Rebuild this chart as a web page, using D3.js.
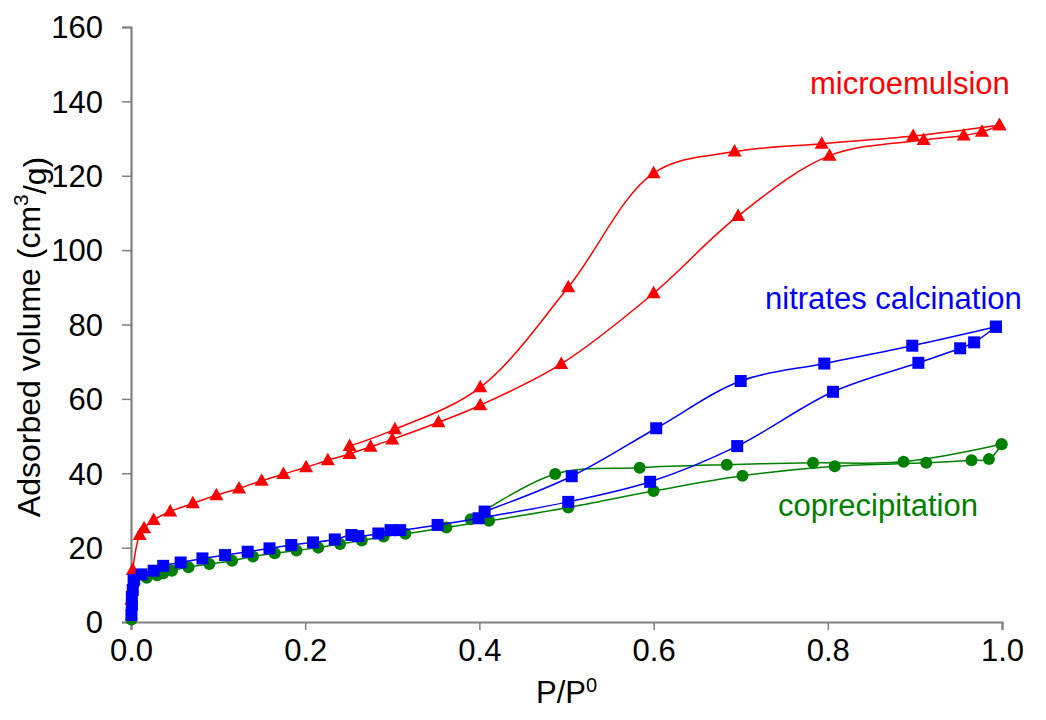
<!DOCTYPE html>
<html>
<head>
<meta charset="utf-8">
<script src="https://cdn.jsdelivr.net/npm/d3@7"></script>
<style>
  html, body { margin: 0; padding: 0; background: #fff; }
  svg { display: block; font-family: "Liberation Sans", Arial, sans-serif; }
</style>
</head>
<body>
<svg id="chart" width="1046" height="720"></svg>
<script>
// N2 isotherms: relative pressure (P/P0) vs adsorbed volume (cm3/g)
const microAdsP = [0.0005, 0.002, 0.010, 0.015, 0.026, 0.045, 0.071, 0.098, 0.124, 0.150, 0.175, 0.201, 0.226, 0.251, 0.275, 0.300, 0.353, 0.401, 0.494, 0.600, 0.697, 0.802, 0.910, 0.956, 0.977, 0.997];
const microAdsV = [6.0, 14.0, 23.4, 25.2, 27.4, 29.7, 31.9, 34.1, 35.9, 38.0, 39.8, 41.6, 43.5, 45.2, 47.1, 49.1, 53.7, 58.3, 69.4, 88.4, 109.2, 125.4, 129.6, 130.8, 131.8, 133.6];
const microDesP = [0.997, 0.898, 0.793, 0.693, 0.600, 0.502, 0.401, 0.303, 0.251];
const microDesV = [133.6, 130.7, 128.6, 126.5, 120.7, 90.0, 63.1, 51.8, 47.3];

const nitrAdsP = [0.0005, 0.001, 0.001, 0.002, 0.003, 0.012, 0.026, 0.037, 0.057, 0.082, 0.108, 0.134, 0.159, 0.184, 0.209, 0.234, 0.253, 0.261, 0.284, 0.298, 0.309, 0.352, 0.399, 0.502, 0.596, 0.696, 0.806, 0.904, 0.952, 0.968, 0.993];
const nitrAdsV = [1.9, 4.6, 6.7, 8.6, 11.3, 12.8, 13.8, 15.1, 16.0, 17.1, 18.0, 18.9, 19.8, 20.7, 21.4, 22.2, 23.4, 23.1, 23.8, 24.7, 24.7, 26.1, 27.9, 32.3, 37.7, 47.3, 61.9, 69.7, 73.6, 75.2, 79.4];
const nitrDesP = [0.993, 0.897, 0.796, 0.700, 0.603, 0.506, 0.406];
const nitrDesV = [79.4, 74.3, 69.5, 64.8, 52.1, 39.2, 29.7];

const coprAdsP = [0.0005, 0.001, 0.002, 0.004, 0.018, 0.030, 0.037, 0.047, 0.066, 0.090, 0.116, 0.140, 0.165, 0.190, 0.215, 0.240, 0.265, 0.290, 0.315, 0.362, 0.411, 0.502, 0.600, 0.702, 0.808, 0.913, 0.965, 0.985, 0.9995];
const coprAdsV = [0.7, 4.0, 8.0, 10.5, 11.9, 12.6, 13.1, 13.8, 14.7, 15.6, 16.5, 17.6, 18.5, 19.2, 20.0, 21.0, 21.9, 23.0, 23.7, 25.4, 27.2, 30.8, 35.2, 39.3, 41.9, 42.8, 43.5, 43.8, 47.8];
const coprDesP = [0.9995, 0.887, 0.783, 0.684, 0.584, 0.487, 0.390];
const coprDesV = [47.8, 43.1, 42.8, 42.3, 41.5, 39.8, 27.6];

const seriesNames = ["microemulsion", "coprecipitation", "nitrates calcination"];
const xTicks = [0, 0.2, 0.4, 0.6, 0.8, 1.0];
const yTicks = [0, 20, 40, 60, 80, 100, 120, 140, 160];

const zip = (p, v) => p.map((d, i) => [d, v[i]]);

const series = [
  { name: seriesNames[0], color: "#ff0000", marker: "triangle",
    branches: [zip(microAdsP, microAdsV), zip(microDesP, microDesV)],
    label: { x: 810, y: 94 } },
  { name: seriesNames[1], color: "#008000", marker: "circle",
    branches: [zip(coprAdsP, coprAdsV), zip(coprDesP, coprDesV)],
    label: { x: 778, y: 516 } },
  { name: seriesNames[2], color: "#0000ff", marker: "square",
    branches: [zip(nitrAdsP, nitrAdsV), zip(nitrDesP, nitrDesV)],
    label: { x: 765, y: 309 } }
];

const svg = d3.select("#chart");
const x = d3.scaleLinear().domain([0, 1]).range([131, 1002]);
const y = d3.scaleLinear().domain([0, 160]).range([622, 27]);
const axisColor = "#808080";
const fontSize = 31;

// axes
const gx = svg.append("g").attr("transform", `translate(0,${y(0)})`)
  .call(d3.axisBottom(x).tickValues(xTicks).tickFormat(d3.format(".1f")).tickSize(8).tickPadding(10));
const gy = svg.append("g").attr("transform", `translate(${x(0)},0)`)
  .call(d3.axisLeft(y).tickValues(yTicks).tickSize(9).tickPadding(19));
[gx, gy].forEach(g => {
  g.select(".domain").attr("stroke", axisColor).attr("stroke-width", 2.2);
  g.selectAll(".tick line").attr("stroke", axisColor).attr("stroke-width", 1.5);
  g.selectAll(".tick text").attr("fill", "#000").style("font-size", fontSize + "px")
    .style("font-family", '"Liberation Sans", Arial, sans-serif');
});
gx.selectAll(".tick text").attr("dy", "0.68em");
gy.selectAll(".tick text").attr("dy", "0.35em");

// axis titles
const xt = svg.append("text").attr("x", (x(0) + x(1)) / 2).attr("y", 703)
  .attr("text-anchor", "middle").style("font-size", fontSize + "px").text("P/P");
xt.append("tspan").attr("dy", "-0.55em").style("font-size", "20px").text("0");

const yt = svg.append("text")
  .attr("transform", `translate(40,337) rotate(-90)`)
  .attr("text-anchor", "middle").style("font-size", "32px");
yt.append("tspan").text("Adsorbed volume (cm");
yt.append("tspan").attr("dy", "-0.55em").style("font-size", "21px").text("3");
yt.append("tspan").attr("dy", "0.55em").text("/g)");

// series: two branches (adsorption, desorption) each, smoothed lines with markers
const line = d3.line().x(d => x(d[0])).y(d => y(d[1])).curve(d3.curveCatmullRom.alpha(0.5));
const tri = "M0,-7.5L7,5L-7,5Z";

series.forEach(s => {
  const g = svg.append("g");
  s.branches.forEach(b => {
    g.append("path").attr("d", line(b)).attr("fill", "none")
      .attr("stroke", s.color).attr("stroke-width", 1.5);
  });
  const pts = s.branches.flat();
  const m = g.selectAll(".m").data(pts).enter();
  if (s.marker === "triangle") {
    m.append("path").attr("d", tri)
      .attr("transform", d => `translate(${x(d[0])},${y(d[1])})`).attr("fill", s.color);
  } else if (s.marker === "square") {
    m.append("rect").attr("x", d => x(d[0]) - 6).attr("y", d => y(d[1]) - 6)
      .attr("width", 12).attr("height", 12).attr("fill", s.color);
  } else {
    m.append("circle").attr("cx", d => x(d[0])).attr("cy", d => y(d[1]))
      .attr("r", 6).attr("fill", s.color);
  }
  svg.append("text").attr("x", s.label.x).attr("y", s.label.y)
    .attr("fill", s.color).style("font-size", fontSize + "px").text(s.name);
});
</script>
</body>
</html>
